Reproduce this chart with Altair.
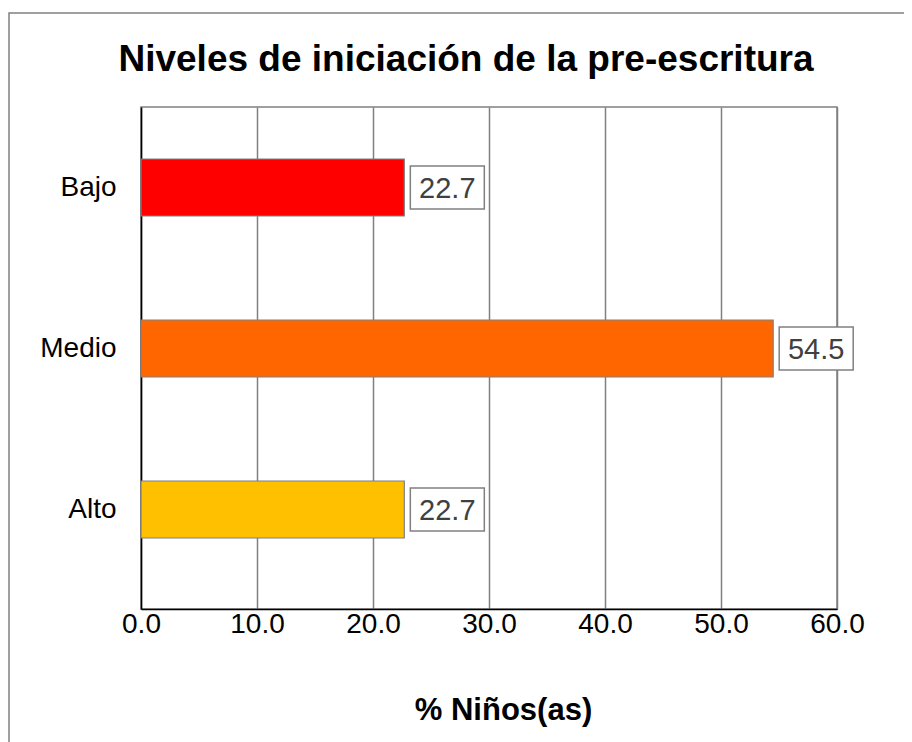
import altair as alt
import pandas as pd

categories = ["Bajo", "Medio", "Alto"]
values = [22.7, 54.5, 22.7]
bar_colors = ["#FF0000", "#FF6600", "#FFC000"]
x_ticks = [0, 10, 20, 30, 40, 50, 60]

df = pd.DataFrame({"nivel": categories, "pct": values})
FONT = "Liberation Sans"

y_enc = alt.Y(
    "nivel:N",
    sort=categories,
    scale=alt.Scale(paddingInner=0, paddingOuter=0.059, align=0),
    axis=alt.Axis(
        title=None, labelFontSize=28, labelFont=FONT, labelColor="black",
        labelPadding=25, ticks=False, domainColor="black", domainWidth=1.5,
        grid=False,
    ),
)
x_enc = alt.X(
    "pct:Q",
    scale=alt.Scale(domain=[0, 60], nice=False),
    axis=alt.Axis(
        values=x_ticks, format=".1f", title="% Niños(as)",
        titleFont=FONT, titleFontSize=31, titleFontWeight="bold", titleColor="black",
        titlePadding=57, titleX=362,
        labelFontSize=28, labelFont=FONT, labelColor="black", labelPadding=1,
        labelFlush=False, labelOverlap=False,
        ticks=False, domainColor="black", domainWidth=1.5,
        grid=True, gridColor="#808080", gridWidth=1.5,
    ),
)

base = alt.Chart(df)

frame = alt.Chart(pd.DataFrame({"a": [0]})).mark_rect(
    fillOpacity=0, stroke="#808080", strokeWidth=1.5
).encode(
    x=alt.value(-132), x2=alt.value(1200), y=alt.value(-94), y2=alt.value(1200)
)

bars = base.mark_bar(height=57, stroke="#808080", strokeWidth=1.2).encode(
    x=x_enc,
    y=y_enc,
    color=alt.Color("nivel:N", scale=alt.Scale(domain=categories, range=bar_colors), legend=None),
)

boxes = base.mark_bar(
    height=43, fill="white", stroke="#808080", strokeWidth=1.5, xOffset=6, x2Offset=80
).encode(
    x=alt.X("pct:Q"),
    x2=alt.X2("pct"),
    y=alt.Y("nivel:N", sort=categories),
)

labels = base.mark_text(
    align="center", baseline="middle", dx=43, dy=1, fontSize=29, font=FONT, color="#404040"
).encode(
    x=alt.X("pct:Q"),
    y=alt.Y("nivel:N", sort=categories),
    text=alt.Text("pct:Q", format=".1f"),
)

chart = alt.layer(frame, bars, boxes, labels).properties(
    width=696,
    height=502,
    autosize=alt.AutoSizeParams(type="none"),
    padding={"left": 133, "top": 99, "right": 67, "bottom": 133},
    title=alt.Title(
        "Niveles de iniciación de la pre-escritura",
        font=FONT, fontSize=37, fontWeight="bold", color="black",
        anchor="middle", dx=-23, offset=-96, baseline="alphabetic",
    ),
).configure_view(
    stroke="#808080", strokeWidth=1.5
)

chart.save("out.html", embed_options={"renderer": "svg", "actions": False})
